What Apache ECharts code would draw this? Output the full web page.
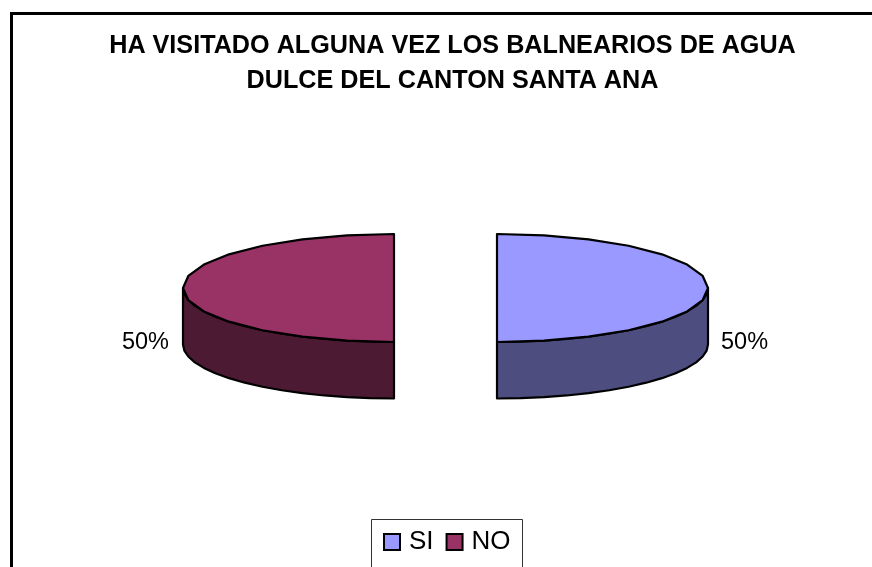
<!DOCTYPE html>
<html>
<head>
<meta charset="utf-8">
<style>html,body{margin:0;padding:0;background:#fff}#c{width:872px;height:567px}</style>
<script src="https://cdn.jsdelivr.net/npm/echarts@6/dist/echarts.min.js"></script>
</head>
<body>
<div id="c"></div>
<script>
var categories = ['SI', 'NO'];
var values = [50, 50];
var topColors = ['#9999FF', '#993366'];
var sideColors = ['#4D4D80', '#4D1A33'];
var titleLines = ['HA VISITADO ALGUNA VEZ LOS BALNEARIOS DE AGUA', 'DULCE DEL CANTON SANTA ANA'];

var total = values.reduce(function (a, b) { return a + b; }, 0);
var FONT = '"Liberation Sans", Arial, sans-serif';
var CX = 445.5, CY = 288, RX = 211, RY = 54, DEPTH = 56.5, EXPLODE = 51.5;

function arc(cx, cy, a0, a1, dy) {
  var pts = [], n = 14;
  for (var i = 0; i <= n; i++) {
    var t = a0 + (a1 - a0) * i / n;
    pts.push([cx + RX * Math.cos(t), cy + RY * Math.sin(t) + (dy || 0)]);
  }
  return pts;
}

function makeRender(idx) {
  return function (params, api) {
    var before = 0;
    for (var i = 0; i < idx; i++) before += values[i];
    var value = api.value(0);
    var a0 = -Math.PI / 2 + 2 * Math.PI * before / total;
    var a1 = a0 + 2 * Math.PI * value / total;
    var mid = (a0 + a1) / 2;
    var cx = CX + EXPLODE * Math.cos(mid);
    var cy = CY + EXPLODE * Math.sin(mid) * RY / RX;
    var stroke = { stroke: '#000', lineWidth: 2.2, lineJoin: 'round' };
    var wallFrom = idx === 0 ? Math.max(a0, 0) : a0;
    var wallTo = idx === 0 ? a1 : Math.min(a1, Math.PI);
    var topRim = arc(cx, cy, wallFrom, wallTo);
    var bottomRim = arc(cx, cy, wallFrom, wallTo, DEPTH).reverse();
    var face = [[cx, cy]].concat(arc(cx, cy, a0, a1));
    var pct = Math.round(value / total * 100) + '%';
    var lx = cx + RX * Math.cos(mid) + (Math.cos(mid) >= 0 ? 13 : -14);
    return {
      type: 'group',
      children: [
        { type: 'polygon', shape: { points: topRim.concat(bottomRim) },
          style: Object.assign({ fill: sideColors[idx] }, stroke) },
        { type: 'polygon', shape: { points: face },
          style: Object.assign({ fill: topColors[idx] }, stroke) },
        { type: 'text', style: { text: pct, x: lx, y: CY + RY + 0.5,
            fill: '#000', font: '23.5px ' + FONT,
            align: Math.cos(mid) >= 0 ? 'left' : 'right', verticalAlign: 'middle' } }
      ]
    };
  };
}

var chart = echarts.init(document.getElementById('c'), null, { renderer: 'canvas' });
chart.setOption({
  animation: false,
  backgroundColor: '#fff',
  graphic: [
    { type: 'polyline', silent: true, shape: { points: [[11.5, 567], [11.5, 13.5], [872, 13.5]] },
      style: { stroke: '#000', lineWidth: 3, fill: null } },
    { type: 'polyline', silent: true, shape: { points: [[371.5, 567], [371.5, 519.5], [522.5, 519.5], [522.5, 567]] },
      style: { stroke: '#333', lineWidth: 1, fill: null } },
    { type: 'text', silent: true, style: { text: titleLines[0], x: 452.5, y: 46, align: 'center', verticalAlign: 'middle',
        fill: '#000', font: 'bold 25.2px ' + FONT } },
    { type: 'text', silent: true, style: { text: titleLines[1], x: 452.5, y: 81, align: 'center', verticalAlign: 'middle',
        fill: '#000', font: 'bold 25.2px ' + FONT } }
  ],
  legend: {
    left: 379, top: 525, padding: 4, itemGap: 12,
    itemWidth: 16, itemHeight: 16, icon: 'rect',
    data: categories,
    itemStyle: { borderColor: '#000', borderWidth: 2 },
    textStyle: { fontFamily: FONT, fontSize: 26, color: '#000', padding: [0, 0, 0, 4] }
  },
  series: categories.map(function (name, i) {
    return {
      type: 'custom', name: name, coordinateSystem: 'none', silent: true,
      itemStyle: { color: topColors[i] },
      renderItem: makeRender(i),
      data: [[values[i]]]
    };
  })
});
</script>
</body>
</html>
